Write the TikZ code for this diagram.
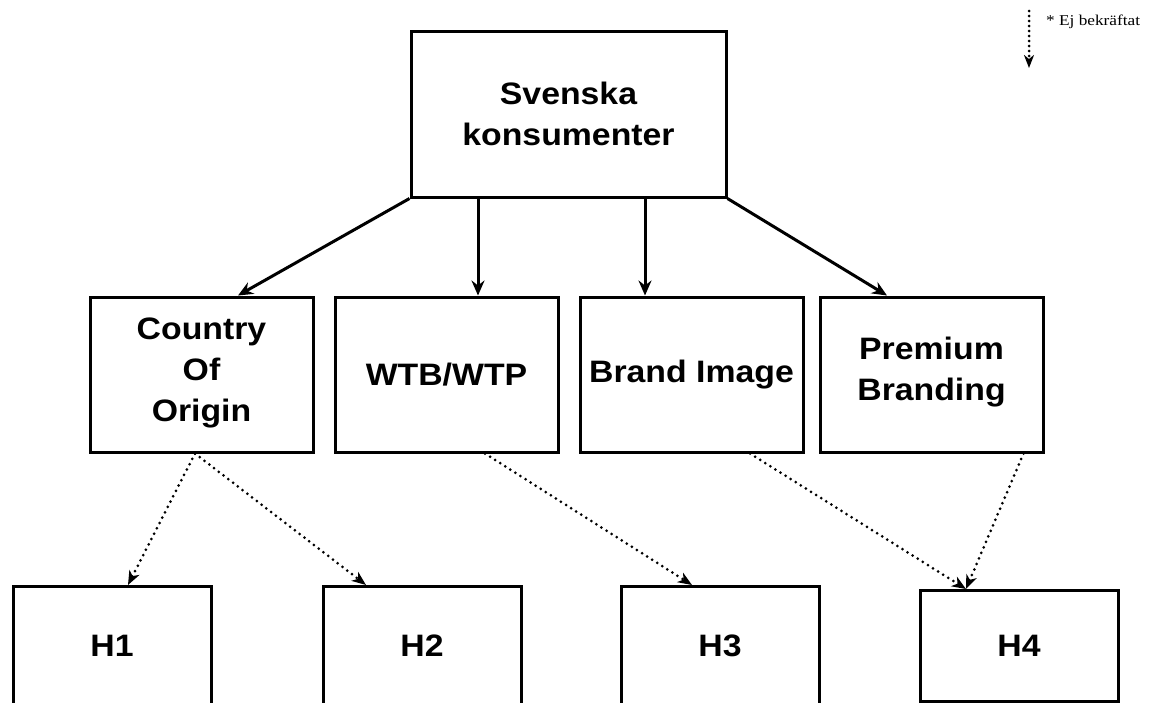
\documentclass[tikz,border=0pt]{standalone}
\usepackage{fontspec}
\setmainfont{Liberation Sans}
\newfontfamily\legendfont{Liberation Serif}
\usetikzlibrary{arrows.meta,calc}
\newcommand{\wide}[1]{\scalebox{1.09}[1]{#1}}
\begin{document}
\begin{tikzpicture}[x=1pt,y=-1pt,
  box/.style={draw=black,line width=3pt,rectangle,align=center,inner sep=0pt,
    font=\fontsize{31}{41}\selectfont\bfseries},
  hlabel/.style={font=\fontsize{31}{41}\selectfont\bfseries},
  solidarrow/.style={line width=3pt,-{Stealth[length=15pt,width=13pt,inset=5pt]}},
  dotarrow/.style={line width=3pt,line cap=round,dash pattern=on 0pt off 6pt,
    -{Stealth[length=14pt,width=11pt,inset=4pt,line cap=butt]}}]
\clip (0,0) rectangle (1149,702);
\fill[white] (0,0) rectangle (1149,702);
% top
\node[box,minimum width=315pt,minimum height=166pt] (top) at (568.5,114) {\wide{Svenska}\\\wide{konsumenter}};
% middle row
\node[box,minimum width=223pt,minimum height=155pt] (coo) at (201.5,374.5) {\wide{Country}\\\wide{Of}\\\wide{Origin}\rule[-9pt]{0pt}{1pt}};
\node[box,minimum width=223pt,minimum height=155pt] (wtb) at (446.5,374.5) {\wide{WTB/WTP}};
\node[box,minimum width=223pt,minimum height=155pt] (brand) at (691.5,374.5) {\wide{Brand Image}};
\node[box,minimum width=223pt,minimum height=155pt] (prem) at (931.5,374.5) {\wide{Premium}\\\wide{Branding}\rule[-12pt]{0pt}{1pt}};
% bottom row
\node[box,minimum width=198pt,minimum height=130pt,anchor=north] (h1) at (112,585) {};
\node[box,minimum width=198pt,minimum height=130pt,anchor=north] (h2) at (422,585) {};
\node[box,minimum width=198pt,minimum height=130pt,anchor=north] (h3) at (720,585) {};
\node[box,minimum width=198pt,minimum height=111pt,anchor=north] (h4) at (1019,589) {};
\node[hlabel] (t1) at (112,646) {\wide{H1}};
\node[hlabel] (t2) at (422,646) {\wide{H2}};
\node[hlabel] (t3) at (720,646) {\wide{H3}};
\node[hlabel] (t4) at (1019,646) {\wide{H4}};
% solid arrows
\draw[solidarrow] (top.south west) -- ([xshift=36.5pt]coo.north);
\draw[solidarrow] ([xshift=-90.5pt]top.south) -- ([xshift=31.5pt]wtb.north);
\draw[solidarrow] ([xshift=76.5pt]top.south) -- ([xshift=-46.5pt]brand.north);
\draw[solidarrow] (top.south east) -- ([xshift=-44.5pt]prem.north);
% dotted arrows
\draw[dotarrow] ([xshift=-6.5pt]coo.south) -- ([xshift=16pt]h1.north);
\draw[dotarrow] ([xshift=-6.5pt]coo.south) -- ([xshift=-56pt]h2.north);
\draw[dotarrow] ([xshift=38.5pt]wtb.south) -- ([xshift=-28pt]h3.north);
\draw[dotarrow] ([xshift=58.5pt]brand.south) -- ([xshift=-53pt]h4.north);
\draw[dotarrow] ([xshift=-21pt]prem.south east) -- ([xshift=-53pt]h4.north);
% legend
\coordinate (ls) at (1029,11);
\coordinate (le) at (1029,68);
\draw[dotarrow,line width=3pt,dash pattern=on 0pt off 5pt,-{Stealth[length=13pt,width=10pt,inset=4pt,line cap=butt]}] (ls) -- (le);
\node[anchor=west,font=\legendfont\fontsize{15}{17}\selectfont,inner sep=0pt] (leg) at (1046,22) {\scalebox{1.15}[1]{* Ej bekräftat}};
\end{tikzpicture}
\end{document}
